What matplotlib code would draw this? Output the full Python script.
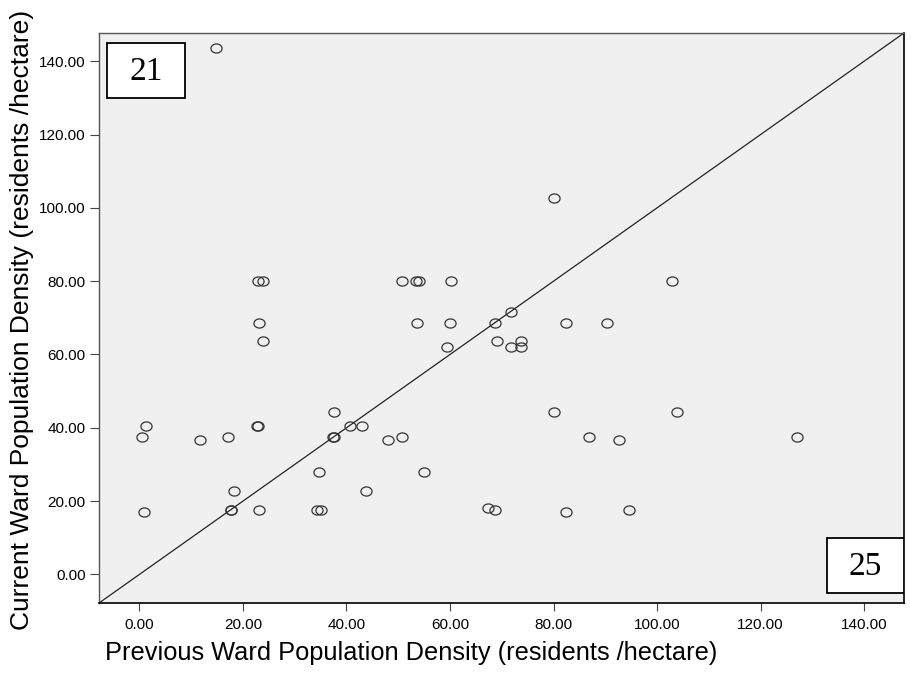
import numpy as np
import matplotlib.pyplot as plt
from matplotlib.path import Path
from matplotlib.patches import Rectangle

# ward densities (residents / hectare)
previous = [14.8, 23.0, 23.8, 50.8, 53.5, 54.0, 60.2, 80.0, 102.8, 71.8,
            23.2, 23.9, 1.35, 0.5, 11.7, 17.2, 22.7, 22.9, 37.5, 37.4,
            37.6, 40.6, 43.0, 48.0, 50.8, 34.6, 18.2, 43.8, 0.8, 17.6,
            17.7, 23.2, 34.3, 35.0, 53.7, 60.0, 68.6, 59.4, 69.1, 71.7,
            73.8, 73.8, 82.5, 90.3, 80.0, 103.8, 86.8, 92.6, 55.0, 67.3,
            68.7, 82.5, 94.6, 127.0]
current = [143.5, 80.0, 80.0, 80.0, 80.0, 80.0, 80.0, 102.8, 80.0, 71.7,
           68.7, 63.7, 40.6, 37.5, 36.6, 37.5, 40.6, 40.6, 44.3, 37.5,
           37.5, 40.6, 40.6, 36.6, 37.5, 27.9, 22.7, 22.7, 16.9, 17.5,
           17.5, 17.5, 17.5, 17.5, 68.7, 68.7, 68.7, 62.0, 63.8, 62.0,
           63.8, 62.0, 68.7, 68.7, 44.3, 44.3, 37.5, 36.6, 27.9, 18.2,
           17.5, 16.9, 17.5, 37.5]

ticks = [0, 20, 40, 60, 80, 100, 120, 140]
tick_labels = ["%.2f" % t for t in ticks]
lims = (-7.8, 147.7)

count_above = "21"
count_below = "25"

plt.rcParams['font.family'] = ['Liberation Sans', 'DejaVu Sans']

fig = plt.figure(figsize=(9.11, 6.79), dpi=100)
ax = fig.add_axes([0.1087, 0.1119, 0.8836, 0.8395])
ax.set_facecolor('#f0f0f0')

# slightly flattened open circle
t = np.linspace(0, 2 * np.pi, 60)
ellipse = Path(np.column_stack([np.cos(t), 0.82 * np.sin(t)]), closed=True)

ax.axline((0, 0), slope=1, color='#222222', linewidth=0.9, zorder=2)
ax.plot(previous, current, linestyle='none', marker=ellipse, markersize=8,
        markerfacecolor='none', markeredgecolor='#333333',
        markeredgewidth=0.9, zorder=3)

ax.set_xlim(lims)
ax.set_ylim(lims)
ax.set_xticks(ticks)
ax.set_xticklabels(tick_labels)
ax.set_yticks(ticks)
ax.set_yticklabels(tick_labels)
ax.tick_params(axis='both', labelsize=11, colors='black')
ax.tick_params(axis='x', length=5.5, width=0.8, pad=5, color='#444444')
ax.tick_params(axis='y', length=6.5, width=0.8, pad=3, color='#444444')

for side in ['top', 'left']:
    ax.spines[side].set_color('#555555')
    ax.spines[side].set_linewidth(1.0)
for side in ['bottom', 'right']:
    ax.spines[side].set_color('black')
    ax.spines[side].set_linewidth(1.2)

ax.set_xlabel("Previous Ward Population Density (residents /hectare)", fontsize=18.3)
ax.set_ylabel("Current Ward Population Density (residents /hectare)", fontsize=19)
ax.xaxis.set_label_coords(0.388, -0.066)
ax.yaxis.set_label_coords(-0.081, 0.497)

# counts of wards above and below the diagonal
boxes = [(0.0099, 0.8855, count_above), (0.904, 0.017, count_below)]
for bx, by, txt in boxes:
    ax.add_patch(Rectangle((bx, by), 0.0965, 0.0975, transform=ax.transAxes,
                           facecolor='white', edgecolor='black',
                           linewidth=1.3, zorder=4))
    ax.text(bx + 0.0483, by + 0.046, txt, transform=ax.transAxes,
            ha='center', va='center', fontsize=24,
            family='Liberation Serif', zorder=5)

plt.savefig('out.png', dpi=100)
